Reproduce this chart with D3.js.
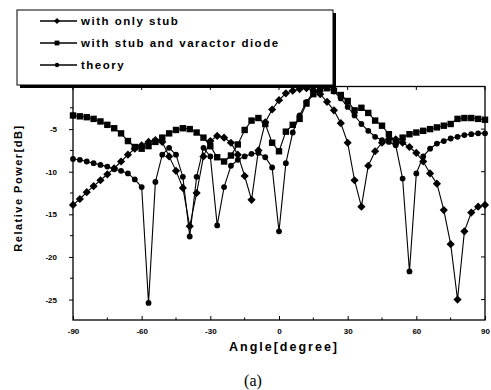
<!DOCTYPE html>
<html>
<head>
<meta charset="utf-8">
<script src="https://cdn.jsdelivr.net/npm/d3@7"></script>
<style>
  body { margin: 0; background: #fff; }
  text { font-family: "Liberation Sans", Arial, sans-serif; fill: #000; }
</style>
</head>
<body>
<div id="chart"></div>
<script>
// angle grid (degrees) shared by the three curves
var angles = [-90,-87,-84,-81,-78,-75,-72,-69,-66,-63,
              -60,-57,-54,-51,-48,-45,-42,-39,-36,-33,
              -30,-27,-24,-21,-18,-15,-12,-9,-6,-3,
              0,3,6,9,12,15,18,21,24,27,
              30,33,36,39,42,45,48,51,54,57,
              60,63,66,69,72,75,78,81,84,87,90];

// with only stub (diamonds)
var onlyStub = [-13.9,-13.2,-12.4,-11.7,-11.0,-10.3,-9.6,-8.8,-8.0,-7.3,
                -6.9,-6.5,-6.3,-6.5,-8.2,-9.9,-11.9,-16.4,-12.5,-8.2,
                -6.4,-5.8,-6.0,-6.6,-8.0,-10.5,-13.3,-7.5,-4.2,-2.7,
                -1.6,-0.8,-0.5,-0.3,-0.2,-0.4,-0.9,-1.8,-2.8,-4.3,
                -6.6,-11.0,-14.1,-9.3,-7.6,-6.6,-6.2,-6.2,-6.6,-7.1,
                -7.8,-8.8,-10.2,-11.4,-14.5,-18.5,-25.0,-17.0,-14.8,-14.1,-13.9];

// with stub and varactor diode (squares)
var stubVaractor = [-3.4,-3.5,-3.6,-3.8,-4.1,-4.5,-4.9,-5.5,-6.4,-7.1,
                    -7.3,-7.0,-6.5,-6.0,-5.5,-5.1,-4.9,-5.0,-5.4,-6.0,
                    -7.0,-8.3,-8.8,-8.1,-6.8,-5.1,-4.0,-3.7,-4.4,-6.6,
                    -7.6,-5.3,-4.5,-3.8,-2.0,-0.9,-0.3,-0.2,-0.5,-1.0,
                    -1.7,-2.8,-2.5,-3.1,-4.0,-4.6,-5.6,-6.5,-6.0,-5.6,
                    -5.4,-5.2,-5.0,-4.8,-4.6,-4.4,-3.8,-3.7,-3.7,-3.8,-3.9];

// theory (circles)
var theory = [-8.5,-8.6,-8.8,-9.0,-9.2,-9.4,-9.7,-9.9,-10.2,-10.9,
              -11.8,-25.4,-11.2,-8.0,-7.2,-8.0,-10.6,-17.6,-10.6,-7.2,
              -8.2,-16.3,-11.8,-9.3,-8.6,-8.2,-7.9,-7.8,-8.3,-9.5,
              -17.0,-9.0,-5.4,-3.4,-1.8,-0.7,-0.1,-0.1,-0.6,-1.4,
              -2.4,-3.4,-4.4,-5.2,-5.9,-6.3,-6.5,-6.9,-10.8,-21.7,
              -10.2,-8.2,-7.3,-6.7,-6.4,-6.1,-5.9,-5.7,-5.6,-5.5,-5.5];

var xTicks = [-90,-60,-30,0,30,60,90];
var xMinor = [-75,-45,-15,15,45,75];
var yTicks = [-5,-10,-15,-20,-25];
var yMinor = [-2.5,-7.5,-12.5,-17.5,-22.5];

var legendNames = ["with only stub", "with stub and varactor diode", "theory"];
var markerKinds = ["diamond", "square", "circle"];

var svgWidth = 491, svgHeight = 390;
var plot = {left: 73, right: 485, top: 86.5, bottom: 320};

var svg = d3.select("#chart").append("svg")
  .attr("width", svgWidth)
  .attr("height", svgHeight);

var x = d3.scaleLinear().domain([-90, 90]).range([plot.left, plot.right]);
var y = d3.scaleLinear().domain([-27.4, 0]).range([plot.bottom, plot.top]);

// frame
svg.append("rect")
  .attr("x", plot.left).attr("y", plot.top)
  .attr("width", plot.right - plot.left).attr("height", plot.bottom - plot.top)
  .attr("fill", "none").attr("stroke", "#000").attr("stroke-width", 1.3);

// left axis
var leftAxis = d3.axisLeft(y).tickValues(yTicks).tickSize(4).tickPadding(12)
  .tickFormat(function(d) { return "-" + Math.abs(d); });
var gy = svg.append("g").attr("transform", "translate(" + plot.left + ",0)").call(leftAxis);
gy.select(".domain").remove();
gy.selectAll("text").style("font-size", "8px").style("font-weight", "bold");

svg.append("g").selectAll("line").data(yMinor).enter().append("line")
  .attr("x1", plot.left - 3).attr("x2", plot.left)
  .attr("y1", function(d) { return y(d); }).attr("y2", function(d) { return y(d); })
  .attr("stroke", "#000");

// right side ticks (inward)
svg.append("g").selectAll("line").data(yTicks).enter().append("line")
  .attr("x1", plot.right - 4).attr("x2", plot.right)
  .attr("y1", function(d) { return y(d); }).attr("y2", function(d) { return y(d); })
  .attr("stroke", "#000");

// bottom axis, ticks pointing inward
var bottomAxis = d3.axisBottom(x).tickValues(xTicks).tickSize(-4).tickPadding(8)
  .tickFormat(function(d) { return d < 0 ? "-" + Math.abs(d) : d; });
var gx = svg.append("g").attr("transform", "translate(0," + plot.bottom + ")").call(bottomAxis);
gx.select(".domain").remove();
gx.selectAll("text").style("font-size", "8px").style("font-weight", "bold");

svg.append("g").selectAll("line").data(xMinor).enter().append("line")
  .attr("x1", function(d) { return x(d); }).attr("x2", function(d) { return x(d); })
  .attr("y1", plot.bottom - 2.5).attr("y2", plot.bottom)
  .attr("stroke", "#000");

// top ticks
svg.append("g").selectAll("line").data(xTicks).enter().append("line")
  .attr("x1", function(d) { return x(d); }).attr("x2", function(d) { return x(d); })
  .attr("y1", plot.top).attr("y2", plot.top + 3.5)
  .attr("stroke", "#000");

// marker drawing
function marker(sel, kind, s) {
  if (kind === "circle") {
    sel.append("circle").attr("r", 2.9 * s).attr("fill", "#000");
  } else if (kind === "square") {
    sel.append("rect").attr("x", -3.2 * s).attr("y", -3.2 * s)
      .attr("width", 6.4 * s).attr("height", 6.4 * s).attr("fill", "#000");
  } else {
    var r = 4.1 * s;
    sel.append("path").attr("d", "M0," + (-r) + "L" + r + ",0L0," + r + "L" + (-r) + ",0Z").attr("fill", "#000");
  }
}

var seriesList = [onlyStub, stubVaractor, theory];

var line = d3.line()
  .x(function(d) { return x(d[0]); })
  .y(function(d) { return y(d[1]); });

seriesList.forEach(function(vals, i) {
  var pts = angles.map(function(a, j) { return [a, vals[j]]; });
  svg.append("path").datum(pts)
    .attr("d", line)
    .attr("fill", "none")
    .attr("stroke", "#000")
    .attr("stroke-width", 1.1);
  svg.append("g").selectAll("g").data(pts).enter().append("g")
    .attr("transform", function(d) { return "translate(" + x(d[0]) + "," + y(d[1]) + ")"; })
    .each(function() { marker(d3.select(this), markerKinds[i], 1); });
});

// legend box with shadow
var lg = svg.append("g");
lg.append("rect").attr("x", 20).attr("y", 13).attr("width", 316).attr("height", 75).attr("fill", "#000");
lg.append("rect").attr("x", 17).attr("y", 10).attr("width", 316).attr("height", 75)
  .attr("fill", "#fff").attr("stroke", "#000").attr("stroke-width", 1);

legendNames.forEach(function(name, i) {
  var ly = 21 + i * 22;
  lg.append("line").attr("x1", 40).attr("x2", 77).attr("y1", ly).attr("y2", ly)
    .attr("stroke", "#000").attr("stroke-width", 1.3);
  var m = lg.append("g").attr("transform", "translate(57," + ly + ")");
  marker(m, markerKinds[i], 0.75);
  lg.append("text").attr("x", 81).attr("y", ly + 4)
    .style("font-size", "11.5px").style("font-weight", "bold").style("letter-spacing", "1.5px")
    .text(name);
});

// axis titles
svg.append("text")
  .attr("x", 284).attr("y", 351)
  .attr("text-anchor", "middle")
  .style("font-size", "12.5px").style("font-weight", "bold").style("letter-spacing", "2px")
  .text("Angle[degree]");

svg.append("text")
  .attr("transform", "translate(22,188) rotate(-90)")
  .attr("text-anchor", "middle")
  .style("font-size", "11px").style("font-weight", "bold").style("letter-spacing", "1.5px")
  .text("Relative Power[dB]");

svg.append("text")
  .attr("x", 253).attr("y", 386)
  .attr("text-anchor", "middle")
  .style("font-family", "'Liberation Serif', serif")
  .style("font-size", "16px")
  .text("(a)");
</script>
</body>
</html>
